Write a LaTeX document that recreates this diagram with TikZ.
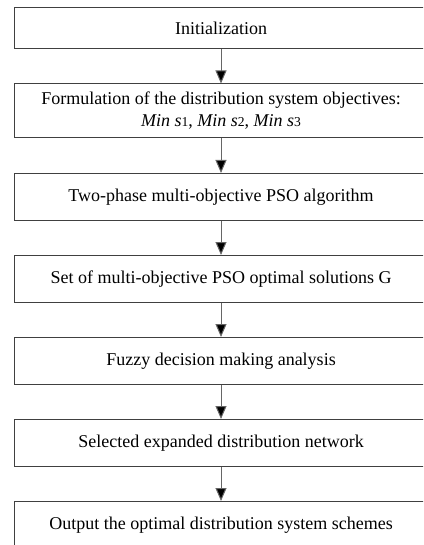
\documentclass[tikz,border=0pt]{standalone}
\usepackage{fontspec}
\setmainfont{Liberation Serif}
\usetikzlibrary{positioning,arrows.meta}
\newcommand{\idx}[1]{{\fontsize{6.8pt}{8pt}\selectfont #1}}
\tikzset{
    stage/.style={draw=black!75,line width=0.5pt,minimum width=207pt,minimum height=23.25pt,align=center,inner xsep=2pt,inner ysep=2pt},
    flow/.style={-{Triangle[width=5.5pt,length=6.5pt,fill=black]},draw=black!60,line width=0.5pt}
}
\begin{document}
\begin{tikzpicture}[node distance=17.25pt,font=\fontsize{9pt}{11pt}\selectfont]
    \useasboundingbox (0,0) rectangle (211.5pt,-272.5pt);
    \clip (0,0) rectangle (211.5pt,-272.5pt);
    \node[stage,anchor=north,minimum height=20.5pt](init) at (110.5pt,-3.5pt){Initialization};
    \node[stage,below=of init,minimum height=27pt](goals){Formulation of the distribution system objectives:\\
        \textit{Min s}\idx{1}, \textit{Min s}\idx{2}, \textit{Min s}\idx{3}};
    \node[stage,below=of goals](pso){Two-phase multi-objective PSO algorithm};
    \node[stage,below=of pso](front){Set of multi-objective PSO optimal solutions G};
    \node[stage,below=of front](fuzzy){Fuzzy decision making analysis};
    \node[stage,below=of fuzzy](net){Selected expanded distribution network};
    \node[stage,below=of net](out){Output the optimal distribution system schemes};
    \draw[flow](init)--(goals);
    \draw[flow](goals)--(pso);
    \draw[flow](pso)--(front);
    \draw[flow](front)--(fuzzy);
    \draw[flow](fuzzy)--(net);
    \draw[flow](net)--(out);
\end{tikzpicture}
\end{document}
